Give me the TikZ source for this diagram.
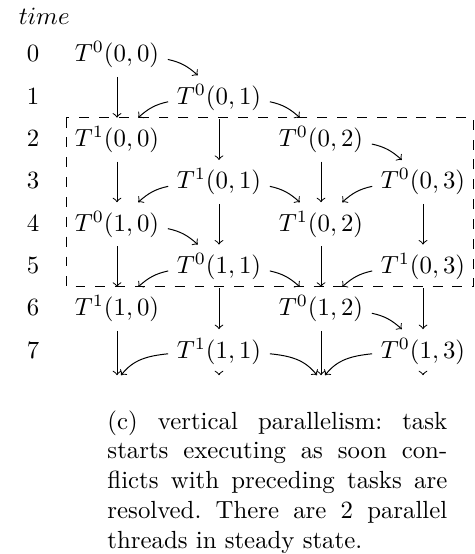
\documentclass[tikz,border=0pt]{standalone}
\begin{document}
\begin{tikzpicture}[x=0.40323pt,y=0.40323pt,
  task/.style={anchor=base,inner sep=0.3333em},
  lbl/.style={anchor=base},
  hole/.style={inner sep=0.3333em},
  arr/.style={->},
  rd/.style={->,out=-12,in=138},
  ld/.style={->,out=192,in=42},
  rdlow/.style={->,out=-6,in=128},
  ldlow/.style={->,out=186,in=52},
  frame/.style={dash pattern=on 4pt off 4pt}]
\useasboundingbox (0,0) rectangle (474,-554);
\node[anchor=base west] (time) at (10,-25) {$time$};
\foreach \k in {0,...,7} \node[lbl] (r\k) at (33,{-62-42.3*\k}) {$\k$};
% tasks
\node[task] (t000) at (117,-62)    {$T^0(0,0)$};
\node[task] (t001) at (219,-104.3) {$T^0(0,1)$};
\node[task] (t100) at (117,-146.6) {$T^1(0,0)$};
\node[task] (t002) at (321,-146.6) {$T^0(0,2)$};
\node[task] (t101) at (219,-188.9) {$T^1(0,1)$};
\node[task] (t003) at (423,-188.9) {$T^0(0,3)$};
\node[task] (t010) at (117,-231.2) {$T^0(1,0)$};
\node[task] (t102) at (321,-231.2) {$T^1(0,2)$};
\node[task] (t011) at (219,-273.5) {$T^0(1,1)$};
\node[task] (t103) at (423,-273.5) {$T^1(0,3)$};
\node[task] (t110) at (117,-315.8) {$T^1(1,0)$};
\node[task] (t012) at (321,-315.8) {$T^0(1,2)$};
\node[task] (t111) at (219,-358.1) {$T^1(1,1)$};
\node[task] (t013) at (423,-358.1) {$T^0(1,3)$};
\node[hole] (e0) at (117,-384) {};
\node[hole] (e1) at (219,-384) {};
\node[hole] (e2) at (321,-384) {};
\node[hole] (e3) at (423,-384) {};
% vertical arrows
\draw[arr] (t000) -- (t100);
\draw[arr] (t100) -- (t010);
\draw[arr] (t010) -- (t110);
\draw[arr] (t110) -- (e0);
\draw[arr] (t001) -- (t101);
\draw[arr] (t101) -- (t011);
\draw[arr] (t011) -- (t111);
\draw[arr] (t111) -- (e1);
\draw[arr] (t002) -- (t102);
\draw[arr] (t102) -- (t012);
\draw[arr] (t012) -- (e2);
\draw[arr] (t003) -- (t103);
\draw[arr] (t103) -- (t013);
\draw[arr] (t013) -- (e3);
% right-down arrows
\draw[rd] (t000.-5) to (t001.134);
\draw[rd] (t001.-5) to (t002.134);
\draw[rd] (t002.-5) to (t003.134);
\draw[rd] (t101.-5) to (t102.134);
\draw[rd] (t010.-5) to (t011.134);
\draw[rd] (t011.-5) to (t012.134);
\draw[rd] (t012.-5) to (t013.134);
\draw[rdlow] (t111.-3) to (e2.115);
% left-down arrows
\draw[ld] (t001.185) to (t100.46);
\draw[ld] (t101.185) to (t010.46);
\draw[ld] (t011.185) to (t110.46);
\draw[ldlow] (t111.183) to (e0.65);
\draw[ld] (t003.185) to (t102.46);
\draw[ld] (t103.185) to (t012.46);
\draw[ldlow] (t013.183) to (e2.65);
% dashed frame
\draw[frame] (t100.north west) rectangle (t003.east |- t110.north);
% caption
\node[anchor=base west,inner sep=0] (cap) at (107,-429) {\parbox[t]{137pt}{\frenchspacing(c) vertical parallelism: task\linebreak starts executing as soon con-\linebreak flicts with preceding tasks are\linebreak resolved. There are 2 parallel\linebreak threads in steady state.}};
\end{tikzpicture}
\end{document}
